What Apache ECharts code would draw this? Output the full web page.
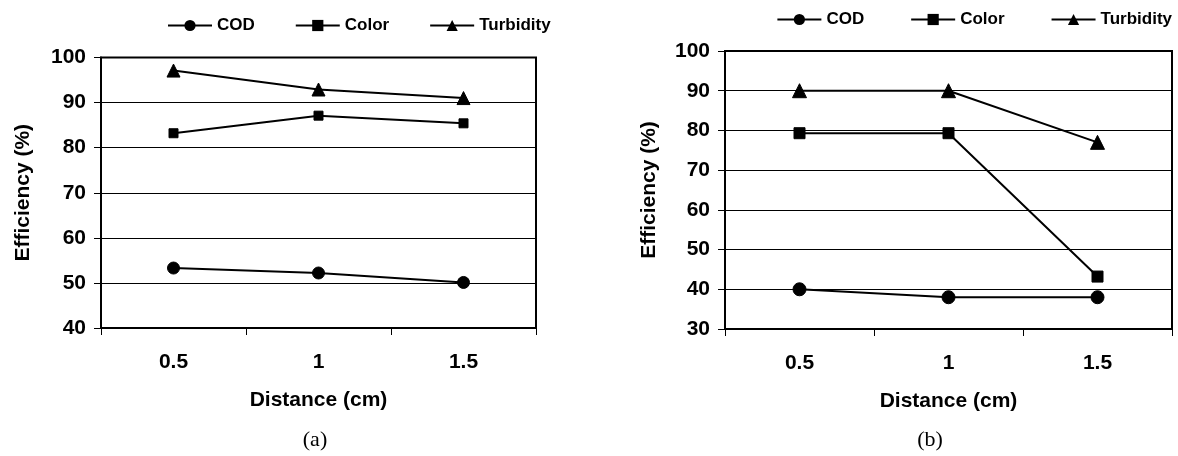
<!DOCTYPE html>
<html>
<head>
<meta charset="utf-8">
<script src="https://cdn.jsdelivr.net/npm/echarts@6/dist/echarts.min.js"></script>
<style>
html,body{margin:0;padding:0;background:#fff;}
#chart{width:1178px;height:456px;}
</style>
</head>
<body>
<div id="chart"></div>
<script>
// ---- data ----
var categories = ['0.5', '1', '1.5'];
var seriesNames = ['COD', 'Color', 'Turbidity'];
// chart (a)
var codA = [53.3, 52.2, 50.1];
var colorA = [83.2, 87.1, 85.4];
var turbA = [97.1, 92.9, 91.0];
// chart (b)
var codB = [40.0, 38.0, 38.0];
var colorB = [79.3, 79.3, 43.2];
var turbB = [90.0, 90.0, 77.0];
// axis ranges
var yMinA = 40, yMaxA = 100;
var yMinB = 30, yMaxB = 100;
var yStep = 10;
var captions = ['(a)', '(b)'];
var xTitle = 'Distance (cm)';
var yTitle = 'Efficiency (%)';

var FONT = '"Liberation Sans", Arial, sans-serif';
var chart = echarts.init(document.getElementById('chart'), null, {renderer: 'canvas'});

function xAxis(gi) {
  return {
    type: 'category', gridIndex: gi, data: categories, boundaryGap: true,
    name: xTitle, nameLocation: 'middle', nameGap: 62,
    nameTextStyle: {fontFamily: FONT, fontWeight: 'bold', fontSize: 21, color: '#000'},
    axisLine: {lineStyle: {color: '#000', width: 2}},
    axisTick: {show: true, length: 7, lineStyle: {color: '#000', width: 1}},
    axisLabel: {fontFamily: FONT, fontWeight: 'bold', fontSize: 21, color: '#000', margin: 24},
    splitLine: {show: false}
  };
}
function yAxis(gi, mn, mx, gap) {
  return {
    type: 'value', gridIndex: gi, min: mn, max: mx, interval: yStep,
    name: yTitle, nameLocation: 'middle', nameGap: gap, nameRotate: 90,
    nameTextStyle: {fontFamily: FONT, fontWeight: 'bold', fontSize: 21, color: '#000'},
    axisLine: {show: true, lineStyle: {color: '#000', width: 2}},
    axisTick: {show: true, length: 7, lineStyle: {color: '#000', width: 1}},
    axisLabel: {fontFamily: FONT, fontWeight: 'bold', fontSize: 21, color: '#000', margin: 15},
    splitLine: {show: true, lineStyle: {color: '#000', width: 1}}
  };
}
function line(name, data, xi, symbol, size) {
  return {
    name: name, type: 'line', xAxisIndex: xi, yAxisIndex: xi, data: data,
    symbol: symbol, symbolSize: size,
    lineStyle: {color: '#000', width: 2},
    itemStyle: {color: '#000', borderColor: '#000'},
    emphasis: {disabled: true},
    animation: false, z: 5
  };
}
function legend(pos, top, gap) {
  var l = {
    top: top, itemWidth: 44, itemHeight: 14, itemGap: gap,
    data: seriesNames, orient: 'horizontal',
    lineStyle: {width: 2, color: '#000'},
    textStyle: {fontFamily: FONT, fontWeight: 'bold', fontSize: 17, color: '#000'},
    selectedMode: false
  };
  for (var k in pos) l[k] = pos[k];
  return l;
}

chart.setOption({
  backgroundColor: '#fff',
  animation: false,
  title: [
    {text: captions[0], left: 310, top: 424, textAlign: 'center',
     textStyle: {fontFamily: '"Liberation Serif", "Times New Roman", serif', fontWeight: 'normal', fontSize: 22, color: '#000'}},
    {text: captions[1], left: 925, top: 424, textAlign: 'center',
     textStyle: {fontFamily: '"Liberation Serif", "Times New Roman", serif', fontWeight: 'normal', fontSize: 22, color: '#000'}}
  ],
  legend: [legend({left: 162}, 12, 40), legend({right: 1}, 6, 46)],
  grid: [
    {left: 101, right: 642, top: 57.5, bottom: 128, show: true, borderColor: '#000', borderWidth: 2, backgroundColor: '#fff'},
    {left: 725, right: 6, top: 51, bottom: 127, show: true, borderColor: '#000', borderWidth: 2, backgroundColor: '#fff'}
  ],
  xAxis: [xAxis(0), xAxis(1)],
  yAxis: [yAxis(0, yMinA, yMaxA, 67), yAxis(1, yMinB, yMaxB, 65)],
  series: [
    line(seriesNames[0], codA, 0, 'circle', 12),
    line(seriesNames[1], colorA, 0, 'rect', 9),
    line(seriesNames[2], turbA, 0, 'triangle', 13),
    line(seriesNames[0], codB, 1, 'circle', 13),
    line(seriesNames[1], colorB, 1, 'rect', 11),
    line(seriesNames[2], turbB, 1, 'triangle', 14)
  ]
});
</script>
</body>
</html>
